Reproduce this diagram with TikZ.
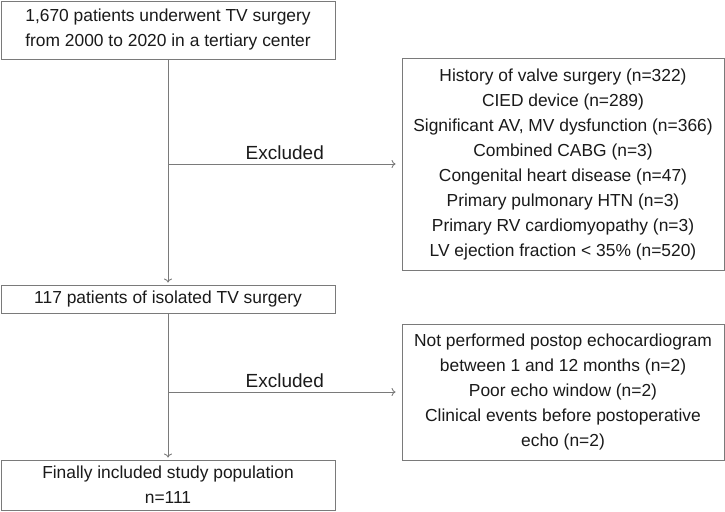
\documentclass[tikz,border=0pt]{standalone}
\usepackage{fontspec}
\setmainfont{Liberation Sans}
\usetikzlibrary{arrows.meta}
\definecolor{linegray}{HTML}{7A7A7A}
\definecolor{txt}{HTML}{1A1A1A}
\begin{document}
\begin{tikzpicture}[x=1pt,y=-1pt,
  box/.style={draw=linegray,line width=0.9pt,fill=white,text=txt,align=center,inner sep=0pt,
     font=\fontsize{17.4}{25}\selectfont},
  conn/.style={draw=linegray,line width=0.9pt},
  arr/.style={conn,-{To[length=4pt,width=8pt]}},
  lab/.style={text=txt,font=\fontsize{19}{24}\selectfont,inner sep=0pt}]
\useasboundingbox (0,0) rectangle (725,511);
\node[box,minimum width=334pt,minimum height=58pt] (b1) at (168,30) {1,670 patients underwent TV surgery\\from 2000 to 2020 in a tertiary center};
\node[box,minimum width=322pt,minimum height=212pt] (b2) at (563,164) {History of valve surgery (n=322)\\CIED device (n=289)\\Significant AV, MV dysfunction (n=366)\\Combined CABG (n=3)\\Congenital heart disease (n=47)\\Primary pulmonary HTN (n=3)\\Primary RV cardiomyopathy (n=3)\\LV ejection fraction < 35\% (n=520)};
\node[box,minimum width=334pt,minimum height=28pt] (b3) at (168,299) {117 patients of isolated TV surgery};
\node[box,minimum width=322pt,minimum height=136pt] (b4) at (563,392) {Not performed postop echocardiogram\\between 1 and 12 months (n=2)\\Poor echo window (n=2)\\Clinical events before postoperative\\echo (n=2)};
\node[box,minimum width=334pt,minimum height=50pt] (b5) at (168,485) {Finally included study population\\n=111};
\coordinate (j1) at (b1.south |- b2.west);
\coordinate (j2) at (b3.south |- b4.west);
\draw[arr,shorten >=2pt] (b1.south) -- (b3.north);
\draw[arr] (j1) -- ([xshift=-6pt]b2.west) node[lab,midway,above=4pt,xshift=3pt] (e1) {Excluded};
\draw[arr,shorten >=2pt] (b3.south) -- (b5.north);
\draw[arr] (j2) -- ([xshift=-6pt]b4.west) node[lab,midway,above=4pt,xshift=3pt] (e2) {Excluded};
\end{tikzpicture}
\end{document}
